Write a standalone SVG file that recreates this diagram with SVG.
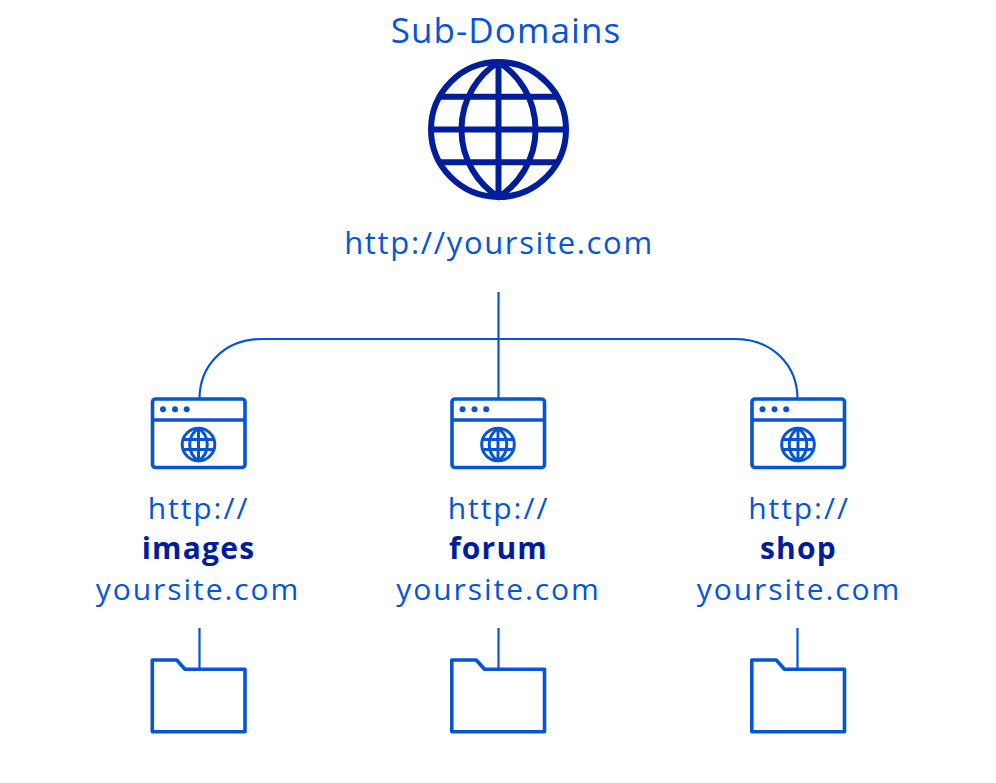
<svg xmlns="http://www.w3.org/2000/svg" width="996" height="783" viewBox="0 0 996 783">
<style>
text{font-family:"Open Sans","Noto Sans","Liberation Sans",sans-serif;text-anchor:middle;fill:#0655d4}
.t{font-size:30px;letter-spacing:1.95px}
.b{font-weight:700;fill:#001d9c;letter-spacing:1.2px}
.line{fill:none;stroke:#0655d4;stroke-width:2.2}
.icon{fill:none;stroke:#0655d4;stroke-width:3.6;stroke-linejoin:round}
.gl{fill:none;stroke:#001d9c;stroke-width:6}
.gs{fill:none;stroke:#0655d4;stroke-width:3}
.dot{fill:#0655d4}
</style>
<defs>
<g id="browser">
<rect class="icon" x="-46" y="-35" width="92.500" height="68.500" rx="3"/>
<path class="icon" d="M-46 -14H46.500"/>
<circle class="dot" cx="-35.500" cy="-24.700" r="3"/>
<circle class="dot" cx="-23.500" cy="-24.700" r="3"/>
<circle class="dot" cx="-11.800" cy="-24.700" r="3"/>
<g transform="translate(0 10.500)">
<circle class="gs" cx="0" cy="0" r="16.300"/>
<path class="gs" d="M0 -16.300A19.500 19.500 0 0 0 0 16.300A19.500 19.500 0 0 0 0 -16.300M0 -16.300V16.300M-15.500 -5H15.500M-15.500 5H15.500"/>
</g>
</g>
<path id="folder" class="icon" d="M-46.200 -37H-21.800L-13.500 -27.700H46.500V34.700H-46.200Z"/>
</defs>
<g id="connectors">
<path class="line" d="M498.500 292V398"/>
<path class="line" d="M199.500 399C199.500 365 225 339 262 339H735C772 339 797.500 365 797.500 399"/>
<path class="line" d="M199.500 628V669"/>
<path class="line" d="M498.500 628V669"/>
<path class="line" d="M797.500 628V669"/>
</g>
<g id="root">
<text x="506" y="42.500" style="font-size:35px;letter-spacing:1.1px">Sub-Domains</text>
<g>
<circle class="gl" cx="498.500" cy="129.500" r="67.500"/>
<path class="gl" d="M498.500 62A80 80 0 0 0 498.500 197A80 80 0 0 0 498.500 62M498.500 62V197M431 129.500H566M439.500 96.700H557.500M439.500 162.300H557.500"/>
</g>
<text x="499" y="254" style="font-size:31px;letter-spacing:1.65px">http://yoursite.com</text>
</g>
<g id="node-images">
<use href="#browser" x="198.500" y="434"/>
<text class="t" x="198.500" y="519">http://</text>
<text class="t b" x="198.500" y="559">images</text>
<text class="t" x="198" y="600">yoursite.com</text>
</g>
<g id="node-forum">
<use href="#browser" x="498" y="434"/>
<text class="t" x="498.500" y="519">http://</text>
<text class="t b" x="498.500" y="559">forum</text>
<text class="t" x="498.500" y="600">yoursite.com</text>
</g>
<g id="node-shop">
<use href="#browser" x="798" y="434"/>
<text class="t" x="799" y="519">http://</text>
<text class="t b" x="798.500" y="559">shop</text>
<text class="t" x="799" y="600">yoursite.com</text>
</g>
<g id="folder-images"><use href="#folder" x="198.500" y="697"/></g>
<g id="folder-forum"><use href="#folder" x="498" y="697"/></g>
<g id="folder-shop"><use href="#folder" x="798" y="697"/></g>
</svg>
